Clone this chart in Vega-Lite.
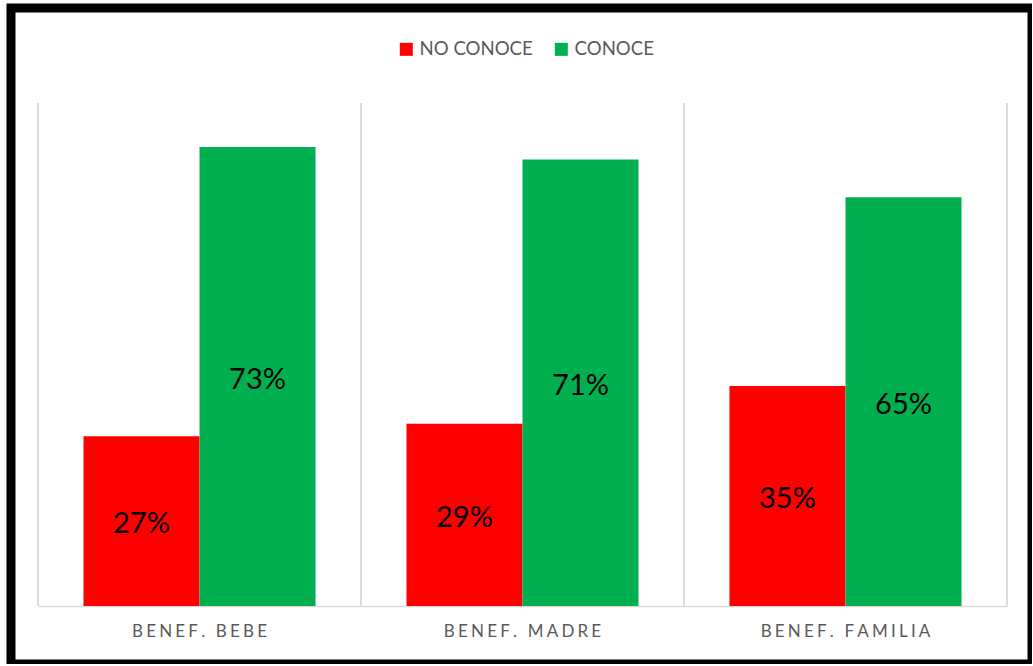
{
  "$schema": "https://vega.github.io/schema/vega-lite/v6.json",
  "autosize": {"type": "none"},
  "padding": {"left": 11, "top": 8, "right": 0, "bottom": 0},
  "width": 1021,
  "height": 656,
  "background": "white",
  "config": {"view": {"stroke": "#000000", "strokeWidth": 9, "fill": "white"}, "font": "Lato"},
  "data": {"values": [
    {"group": "BENEF. BEBE", "serie": "NO CONOCE", "value": 0.27},
    {"group": "BENEF. BEBE", "serie": "CONOCE", "value": 0.73},
    {"group": "BENEF. MADRE", "serie": "NO CONOCE", "value": 0.29},
    {"group": "BENEF. MADRE", "serie": "CONOCE", "value": 0.71},
    {"group": "BENEF. FAMILIA", "serie": "NO CONOCE", "value": 0.35},
    {"group": "BENEF. FAMILIA", "serie": "CONOCE", "value": 0.65}
  ]},
  "resolve": {"scale": {"y": "independent"}, "axis": {"y": "independent"}},
  "layer": [
    {
      "mark": {"type": "rule", "color": "#D9D9D9", "strokeWidth": 1.5},
      "encoding": {
        "x": {"field": "group", "type": "nominal", "bandPosition": 0, "sort": ["BENEF. BEBE", "BENEF. MADRE", "BENEF. FAMILIA"], "scale": {"range": [27, 996], "paddingInner": 0, "paddingOuter": 0},
          "axis": {"orient": "bottom", "offset": -58, "title": null, "labelAngle": 0, "ticks": false, "grid": false, "domainColor": "#D9D9D9", "domainWidth": 1.5, "labelFontSize": 17, "labelColor": "#595959", "labelPadding": 17, "labelFont": "Lato", "labelExpr": "join(split(datum.label, ''), '\u2009\u200a')"}},
        "y": {"datum": 0, "type": "quantitative", "scale": {"domain": [0, 0.8], "range": [598, 95], "nice": false}, "axis": null},
        "y2": {"datum": 0.8}
      }
    },
    {
      "transform": [{"filter": "datum.group === 'BENEF. FAMILIA'"}],
      "mark": {"type": "rule", "color": "#D9D9D9", "strokeWidth": 1.5},
      "encoding": {
        "x": {"field": "group", "type": "nominal", "bandPosition": 1, "sort": ["BENEF. BEBE", "BENEF. MADRE", "BENEF. FAMILIA"], "scale": {"range": [27, 996], "paddingInner": 0, "paddingOuter": 0},
          "axis": {"orient": "bottom", "offset": -58, "title": null, "labelAngle": 0, "ticks": false, "grid": false, "domainColor": "#D9D9D9", "domainWidth": 1.5, "labelFontSize": 17, "labelColor": "#595959", "labelPadding": 17, "labelFont": "Lato", "labelExpr": "join(split(datum.label, ''), '\u2009\u200a')"}},
        "y": {"datum": 0, "type": "quantitative", "scale": {"domain": [0, 0.8], "range": [598, 95], "nice": false}, "axis": null},
        "y2": {"datum": 0.8}
      }
    },
    {
      "mark": {"type": "bar"},
      "encoding": {
        "x": {"field": "group", "type": "nominal", "sort": ["BENEF. BEBE", "BENEF. MADRE", "BENEF. FAMILIA"], "scale": {"range": [27, 996], "paddingInner": 0, "paddingOuter": 0},
          "axis": {"orient": "bottom", "offset": -58, "title": null, "labelAngle": 0, "ticks": false, "grid": false, "domainColor": "#D9D9D9", "domainWidth": 1.5, "labelFontSize": 17, "labelColor": "#595959", "labelPadding": 17, "labelFont": "Lato", "labelExpr": "join(split(datum.label, ''), '\u2009\u200a')"}},
        "xOffset": {"field": "serie", "type": "nominal", "sort": ["NO CONOCE", "CONOCE"], "scale": {"paddingOuter": 0.392, "paddingInner": 0}},
        "y": {"field": "value", "type": "quantitative", "scale": {"domain": [0, 0.8], "range": [598, 95], "nice": false, "zero": true}, "axis": null},
        "color": {"field": "serie", "type": "nominal", "sort": ["NO CONOCE", "CONOCE"],
          "scale": {"domain": ["NO CONOCE", "CONOCE"], "range": ["#FF0000", "#00B050"]},
          "legend": {"orient": "none", "direction": "horizontal", "legendX": 386, "legendY": 32, "title": null, "symbolType": "square", "symbolSize": 169, "symbolStrokeWidth": 0, "labelFontSize": 18.6, "labelColor": "#595959", "labelFont": "Lato", "labelOffset": 4, "columnPadding": 19, "padding": 0}}
      }
    },
    {
      "mark": {"type": "text", "baseline": "middle", "align": "center", "fontSize": 29, "color": "#000000", "font": "Lato", "dy": 3},
      "encoding": {
        "x": {"field": "group", "type": "nominal", "sort": ["BENEF. BEBE", "BENEF. MADRE", "BENEF. FAMILIA"], "scale": {"range": [27, 996], "paddingInner": 0, "paddingOuter": 0},
          "axis": {"orient": "bottom", "offset": -58, "title": null, "labelAngle": 0, "ticks": false, "grid": false, "domainColor": "#D9D9D9", "domainWidth": 1.5, "labelFontSize": 17, "labelColor": "#595959", "labelPadding": 17, "labelFont": "Lato", "labelExpr": "join(split(datum.label, ''), '\u2009\u200a')"}},
        "xOffset": {"field": "serie", "type": "nominal", "sort": ["NO CONOCE", "CONOCE"], "scale": {"paddingOuter": 0.392, "paddingInner": 0}},
        "y": {"field": "value", "type": "quantitative", "scale": {"domain": [0, 1.6], "range": [598, 95], "nice": false, "zero": true}, "axis": null},
        "text": {"field": "value", "type": "quantitative", "format": ".0%"}
      }
    }
  ]
}
